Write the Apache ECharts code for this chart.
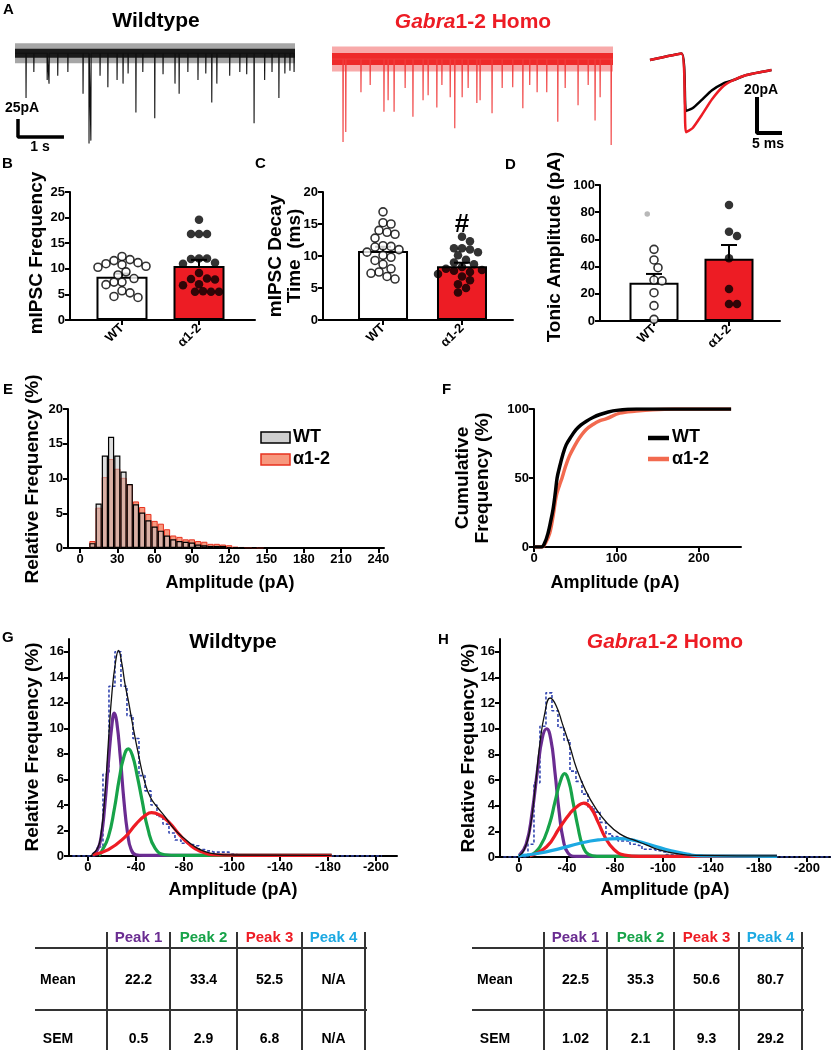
<!DOCTYPE html>
<html>
<head>
<meta charset="utf-8">
<script src="https://cdn.jsdelivr.net/npm/echarts@6/dist/echarts.min.js"></script>
<style>
  html, body { margin: 0; padding: 0; background: #fff; }
  #fig { width: 831px; height: 1050px; }
</style>
</head>
<body>
<div id="fig"></div>
<script>
var FF = '"Liberation Sans", Arial, Helvetica, sans-serif';

// ---------- A: example traces (event time s, depth pA below baseline) ----------
var wtEvents = [[0.24,62],[0.41,26],[0.70,37],[0.74,42],[0.93,31],[1.15,26],[1.48,56],[1.61,125],[1.65,121],
  [1.85,31],[2.02,47],[2.22,37],[2.35,42],[2.46,28],[2.63,82],[2.78,26],[3.04,90],[3.22,29],[3.48,42],[3.57,56],
  [3.76,26],[3.98,37],[4.15,28],[4.28,68],[4.39,42],[4.67,31],[4.89,26],[5.04,29],[5.20,97],[5.43,37],[5.59,26],
  [5.74,62],[5.87,28],[5.98,24],[6.07,26]];
var homoEvents = [[0.24,115],[0.30,101],[0.63,46],[0.83,36],[1.13,73],[1.22,57],[1.35,73],[1.59,40],[1.76,80],
  [1.98,57],[2.09,50],[2.28,67],[2.39,36],[2.57,53],[2.67,96],[2.83,53],[2.96,40],[3.15,61],[3.22,57],[3.48,75],
  [3.70,40],[3.93,39],[4.15,68],[4.30,36],[4.46,46],[4.67,46],[4.91,87],[5.07,40],[5.35,64],[5.57,36],[5.72,85],
  [5.83,53],[6.07,119]];
var wtDuration = 6.09, homoDuration = 6.11;

// averaged mIPSC inset (ms, pA)
var insetTime = [0, 6.3, 7.2, 8.5, 10.3, 12.4, 14.7, 16.7, 19.3, 24.3];
var insetWT   = [-1.7, 2.0, -30, -28.5, -24, -18.5, -14.6, -12.8, -10, -7.2];
var insetHomo = [-1.7, 2.0, -41.8, -39.6, -32.5, -23.5, -16.1, -12.8, -10, -7.2];

// ---------- B, C, D ----------
var groups = ['WT', 'α1-2'];
var freqMean = [8.46, 10.55];
var freqSem  = [0.6, 1.2];
var freqWT   = [12.4, 11.8, 11.6, 11.2, 11.0, 10.8, 10.5, 10.3, 9.4, 8.8, 8.1, 7.4, 7.4, 6.9, 5.7, 5.3, 4.6, 4.4];
var freqHomo = [19.6, 16.8, 16.8, 16.8, 12.0, 12.0, 11.9, 11.2, 11.0, 9.2, 8.1, 8.0, 7.9, 7.0, 6.8, 5.6, 5.5, 5.5, 5.5];

var decayMean = [10.8, 8.4];
var decaySem  = [0.65, 0.55];
var decayWT   = [16.9, 15.2, 15.0, 14.0, 13.7, 13.4, 12.8, 11.6, 11.5, 11.4, 11.0, 10.6, 10.1, 9.8, 9.3, 8.7, 8.0, 7.5, 7.3, 6.8, 6.4];
var decayHomo = [13.0, 12.3, 11.2, 11.2, 11.0, 10.6, 10.1, 9.4, 9.0, 8.7, 8.3, 8.0, 7.8, 7.7, 7.5, 7.2, 6.8, 6.2, 5.6, 5.0, 4.3];

var tonicMean = [28.2, 45.8];
var tonicSem  = [6.4, 10.1];
var tonicWT   = [52.7, 44.9, 39.2, 30.1, 29.5, 20.8, 11.3, 1.2];
var tonicWTExcluded = [78.7];
var tonicHomo = [85.3, 65.7, 62.5, 46.1, 23.5, 12.5, 12.5];

// ---------- E: amplitude histogram ----------
var binCenters = [10,15,20,25,30,35,40,45,50,55,60,65,70,75,80,85,90,95,100,105,110,115,120,125,130,135,140,145];
var histWT   = [0.7,6.4,13.3,16.0,13.3,11.0,9.2,6.3,5.1,4.0,3.1,2.5,1.8,1.25,1.0,0.9,0.8,0.5,0.4,0.3,0.3,0.3,0.15,0.1,0.1,0.05,0.1,0.05];
var histHomo = [1.0,5.8,10.2,12.8,11.4,10.1,9.1,6.7,5.9,4.9,3.9,3.5,2.7,1.8,1.6,1.25,1.25,1.0,0.9,0.6,0.6,0.5,0.4,0.2,0.15,0.1,0.1,0.05];
var histTicks = [0,30,60,90,120,150,180,210,240];

// ---------- F: cumulative ----------
var cdfWT = [[0,0],[9,0],[13,3],[17,10],[20,18],[23,27],[26,40],[28,50],[31,58],[35,67],[39,74],[45,80],[51,85],
  [57,88.5],[63,91],[72,94],[80,96],[90,97.8],[100,99],[124,100],[239,100]];
var cdfHomo = [[0,0],[10,0],[14,3],[19,10],[23,22],[27,37],[31,45],[34,50],[38,58],[43,66],[49,73],[55,79],[63,85],
  [72,89],[80,91.5],[88,93],[104,97],[124,98.5],[144,99.5],[170,100],[239,100]];
var cdfTicks = [0,100,200];

// ---------- G, H: gaussian fits ----------
var fitTicks = [0,40,80,120,160,200,240];
var fitTickLabels = ['0','-40','-80','-100','-140','-180','-200'];
var gPeak1 = [[4,0.1],[8,0.5],[11,1.5],[14,3.9],[17,7.3],[20,10.3],[22,11.2],[24,10.5],[27,7.7],[30,4.3],[33,1.8],[36,0.5],[40,0.1],[46,0.05],[203,0.05]];
var gPeak2 = [[9,0.05],[11,0.3],[17,1.5],[22,3.7],[26,6],[30,7.8],[33.6,8.4],[37,7.9],[41,6.3],[45,4.4],[50,2.1],[56,0.6],[64,0.1],[75,0.05],[203,0.05]];
var gPeak3 = [[4,0.1],[17,0.5],[31,1.5],[40,2.5],[48,3.2],[53,3.4],[60,3.2],[68,2.6],[76,1.7],[84,0.95],[93,0.4],[107,0.08],[130,0.05],[203,0.05]];
var gSum = [[3,0.1],[8,0.6],[11,1.8],[14,4.6],[17,8.9],[20,12.8],[23,15.2],[25.5,16.1],[28,15.2],[31,13.4],[34,12],[37,10.4],[42,8],
  [47,5.9],[52,4.6],[58,3.8],[64,3.1],[72,2.1],[80,1.4],[88,0.8],[96,0.4],[107,0.15],[121,0.08],[203,0.05]];
var hPeak1 = [[0,0.1],[6,1],[11,3.5],[15.5,6.8],[19.5,9.3],[23,10],[26.5,9.2],[30,6.6],[33.5,3.5],[37,1.3],[41,0.3],[48,0.05],[215,0.05]];
var hPeak2 = [[9,0.1],[17.5,0.8],[25.5,2.6],[30,4.3],[34.5,5.9],[38,6.5],[41.5,5.9],[45,4.3],[49,2.4],[53,0.9],[58,0.2],[65,0.05],[215,0.05]];
var hPeak3 = [[9,0.1],[23,0.8],[34,2.3],[42.5,3.4],[48,3.9],[54,4.2],[60,3.8],[66,2.7],[72,1.5],[79,0.6],[88,0.15],[100,0.05],[215,0.05]];
var hPeak4 = [[-0.5,0.1],[14,0.25],[34,0.65],[50,1.05],[66,1.33],[84,1.44],[98,1.25],[112,0.88],[126,0.5],[140,0.22],[153,0.08],[215,0.05]];
var hSum = [[0,0.1],[4,0.5],[9,2.1],[13.5,5.4],[17.5,8.9],[21.5,11.2],[26,12.4],[31,11.8],[36.5,10.3],[42.5,8.6],[48,6.9],
  [56,5.1],[64,3.8],[73,2.7],[84,1.8],[95,1.35],[106,0.95],[117,0.55],[130,0.28],[148,0.12],[215,0.08]];

// ---------- tables ----------
var peakNames = ['Peak 1', 'Peak 2', 'Peak 3', 'Peak 4'];
var wtPeakMean = ['22.2', '33.4', '52.5', 'N/A'];
var wtPeakSem  = ['0.5', '2.9', '6.8', 'N/A'];
var homoPeakMean = ['22.5', '35.3', '50.6', '80.7'];
var homoPeakSem  = ['1.02', '2.1', '9.3', '29.2'];

// =====================================================================
var peakColors = ['#6a2c91', '#17a349', '#ee1c24', '#1ca9e2'];
var RED = '#ed1c24';

var grids = [
  {left: 15,  top: 36,  width: 280, height: 114},  // 0 A wildtype trace
  {left: 332, top: 36,  width: 281, height: 114},  // 1 A homo trace
  {left: 650, top: 40,  width: 135, height: 110},  // 2 A inset
  {left: 70,  top: 192, width: 185, height: 128},  // 3 B
  {left: 323, top: 192, width: 190, height: 128},  // 4 C
  {left: 600, top: 185, width: 180, height: 136},  // 5 D
  {left: 68,  top: 409, width: 316, height: 139},  // 6 E
  {left: 534, top: 409, width: 207, height: 138},  // 7 F
  {left: 69,  top: 639, width: 328, height: 217},  // 8 G
  {left: 500, top: 639, width: 331, height: 218}   // 9 H
];

function axis(grid, o) {
  var a = {
    gridIndex: grid, type: 'value',
    axisLine: {onZero: false, lineStyle: {color: '#000', width: 2}},
    axisTick: {length: 5, lineStyle: {color: '#000', width: 2}},
    axisLabel: {color: '#000', fontFamily: FF, fontWeight: 'bold', fontSize: 13, margin: 5},
    splitLine: {show: false}
  };
  for (var k in o) {
    if (typeof o[k] === 'object' && !Array.isArray(o[k]) && a[k]) {
      for (var j in o[k]) a[k][j] = o[k][j];
    } else a[k] = o[k];
  }
  return a;
}
function hidden(grid, min, max) {
  return {gridIndex: grid, type: 'value', min: min, max: max, show: false};
}
function catFmt(v) { return groups[Math.round(v)]; }

var xAxes = [
  hidden(0, 0, wtDuration),
  hidden(1, 0, homoDuration),
  hidden(2, 0, 27),
  axis(3, {min: -0.675, max: 1.727, axisTick: {customValues: [0, 1]}, axisLabel: {customValues: [0, 1], formatter: catFmt, rotate: 45, margin: 6}}),
  axis(4, {min: -0.76, max: 1.646, axisTick: {customValues: [0, 1]}, axisLabel: {customValues: [0, 1], formatter: catFmt, rotate: 45, margin: 6}}),
  axis(5, {min: -0.72, max: 1.68, axisTick: {customValues: [0, 1]}, axisLabel: {customValues: [0, 1], formatter: catFmt, rotate: 45, margin: 6}}),
  axis(6, {min: -9.65, max: 244.5, axisTick: {customValues: histTicks}, axisLabel: {customValues: histTicks}}),
  axis(7, {min: 0, max: 251, axisTick: {customValues: cdfTicks}, axisLabel: {customValues: cdfTicks}}),
  axis(8, {min: -15.8, max: 257.5, axisTick: {customValues: fitTicks},
    axisLabel: {customValues: fitTicks, formatter: function (v) { return fitTickLabels[fitTicks.indexOf(v)]; }}}),
  axis(9, {min: -15.8, max: 260, axisTick: {customValues: fitTicks},
    axisLabel: {customValues: fitTicks, formatter: function (v) { return fitTickLabels[fitTicks.indexOf(v)]; }}})
];
var yTicksFit = [0, 2, 4, 6, 8, 10, 12, 14, 16];
var yAxes = [
  hidden(0, -134, 24),
  hidden(1, -126, 32),
  hidden(2, -51.67, 9.44),
  axis(3, {min: 0, max: 25, interval: 5}),
  axis(4, {min: 0, max: 20, interval: 5}),
  axis(5, {min: 0, max: 100, interval: 20}),
  axis(6, {min: 0, max: 20, interval: 5}),
  axis(7, {min: 0, max: 100, interval: 50}),
  axis(8, {min: 0, max: 17, axisTick: {customValues: yTicksFit}, axisLabel: {customValues: yTicksFit}}),
  axis(9, {min: 0, max: 17, axisTick: {customValues: yTicksFit}, axisLabel: {customValues: yTicksFit}})
];

var series = [];

// ---- A traces ----
function spikeTrace(events, dur) {
  var pts = [[0, 0]];
  events.forEach(function (e) { pts.push([e[0] - 0.004, 0], [e[0], -e[1]], [e[0] + 0.006, 0]); });
  pts.push([dur, 0]);
  return pts;
}
function line(xi, data, color, width, extra) {
  var s = {type: 'line', xAxisIndex: xi, yAxisIndex: xi, data: data, symbol: 'none', silent: true,
    lineStyle: {color: color, width: width}};
  for (var k in extra) s[k] = extra[k];
  return s;
}
// noise envelope (light) + dense core of the baseline
series.push(line(0, [[0, 0], [wtDuration, 0]], 'rgba(0,0,0,0.35)', 20));
series.push(line(0, [[0, 0], [wtDuration, 0]], '#1a1a1a', 9));
series.push(line(0, spikeTrace(wtEvents, wtDuration), '#111', 1.1));
series.push(line(1, [[0, 0], [homoDuration, 0]], 'rgba(238,42,42,0.4)', 25));
series.push(line(1, [[0, 0], [homoDuration, 0]], '#ee2a2a', 12));
series.push(line(1, spikeTrace(homoEvents, homoDuration), '#f03a3a', 1.1));
// scale bars: 25 pA / 1 s and 20 pA / 5 ms
series.push(line(0, [[0.065, -91], [0.065, -116], [1.065, -116]], '#000', 3.5));
series.push(line(2, [[21.4, -22.2], [21.4, -42.2], [26.4, -42.2]], '#000', 4));
series.push(line(2, insetTime.map(function (t, i) { return [t, insetWT[i]]; }), '#000', 2.5, {smooth: 0.2}));
series.push(line(2, insetTime.map(function (t, i) { return [t, insetHomo[i]]; }), RED, 2.5, {smooth: 0.2}));

// ---- B, C, D ----
function swarm(vals, idx, pxX, pxY, d) {
  var placed = [], out = [];
  vals.forEach(function (v) {
    var y = v * pxY, off = 0;
    var cands = [0];
    for (var j = 1; j < 16; j++) cands.push(j * d / 2, -j * d / 2);
    for (var c = 0; c < cands.length; c++) {
      off = cands[c];
      var ok = placed.every(function (p) {
        var dx = p[0] - off, dy = p[1] - y;
        return dx * dx + dy * dy >= d * d;
      });
      if (ok) break;
    }
    placed.push([off, y]);
    out.push([idx + off / pxX, v]);
  });
  return out;
}
function barPanel(ai, mean, sem, wt, homo, barW, pxX, pxY) {
  series.push({type: 'bar', xAxisIndex: ai, yAxisIndex: ai, barWidth: barW, z: 2, silent: true,
    data: mean.map(function (m, i) { return {value: [i, m], itemStyle: {color: i === 0 ? '#fff' : RED}}; }),
    itemStyle: {borderColor: '#000', borderWidth: 2}});
  series.push({type: 'custom', xAxisIndex: ai, yAxisIndex: ai, z: 3, silent: true,
    data: mean.map(function (m, i) { return [i, m, sem[i]]; }),
    renderItem: function (params, api) {
      var b = api.coord([api.value(0), api.value(1)]);
      var t = api.coord([api.value(0), api.value(1) + api.value(2)]);
      var st = {stroke: '#000', lineWidth: 2};
      return {type: 'group', children: [
        {type: 'line', shape: {x1: b[0], y1: b[1], x2: t[0], y2: t[1]}, style: st},
        {type: 'line', shape: {x1: t[0] - 8, y1: t[1], x2: t[0] + 8, y2: t[1]}, style: st}
      ]};
    }});
  series.push({type: 'scatter', xAxisIndex: ai, yAxisIndex: ai, z: 4, silent: true, symbolSize: 8,
    data: swarm(wt, 0, pxX, pxY, 8),
    itemStyle: {color: '#fff', borderColor: '#000', borderWidth: 1.6}});
  series.push({type: 'scatter', xAxisIndex: ai, yAxisIndex: ai, z: 4, silent: true, symbolSize: 8.5,
    data: swarm(homo, 1, pxX, pxY, 8), itemStyle: {color: '#000'}});
}
barPanel(3, freqMean, freqSem, freqWT, freqHomo, 51, 77, 128 / 25);
barPanel(4, decayMean, decaySem, decayWT, decayHomo, 50, 79, 128 / 20);
barPanel(5, tonicMean, tonicSem, tonicWT, tonicHomo, 49, 75, 136 / 100);
series.push({type: 'scatter', xAxisIndex: 5, yAxisIndex: 5, z: 4, silent: true, symbolSize: 5.5,
  data: tonicWTExcluded.map(function (v) { return [-0.09, v]; }), itemStyle: {color: '#a6a6a6'}});

// ---- E ----
series.push({type: 'bar', xAxisIndex: 6, yAxisIndex: 6, barWidth: 6.2, barGap: '-100%', silent: true,
  data: binCenters.map(function (c, i) { return [c, histHomo[i]]; }),
  itemStyle: {color: '#f7987e', borderColor: '#e8321f', borderWidth: 1}});
series.push({type: 'bar', xAxisIndex: 6, yAxisIndex: 6, barWidth: 6.2, barGap: '-100%', silent: true,
  data: binCenters.map(function (c, i) { return [c, histWT[i]]; }),
  itemStyle: {color: 'rgba(195,195,195,0.55)', borderColor: '#000', borderWidth: 1.2}});

// ---- F ----
series.push(line(7, cdfHomo, '#f26a4f', 3.5, {smooth: 0.35}));
series.push(line(7, cdfWT, '#000', 3.5, {smooth: 0.35}));

// ---- G, H ----
function histStep(hist, endX) {
  var pts = [[-13, 0], [5, 0]];
  binCenters.forEach(function (c, i) { pts.push([c, hist[i]]); });
  pts.push([150, 0], [endX, 0]);
  return pts;
}
function fitPanel(ai, hist, endX, peaks, sum) {
  series.push(line(ai, histStep(hist, endX), '#3346b0', 1.6, {step: 'middle'}));
  series[series.length - 1].lineStyle.type = [3, 2];
  peaks.forEach(function (p, i) {
    series.push(line(ai, p, peakColors[i], 3.2, {smooth: 0.5}));
  });
  series.push(line(ai, sum, '#111', 1.3, {smooth: 0.5}));
}
fitPanel(8, histWT, 245, [gPeak1, gPeak2, gPeak3], gSum);
fitPanel(9, histHomo, 262, [hPeak1, hPeak2, hPeak3, hPeak4], hSum);

// ---------- graphic texts ----------
var gfx = [];
function T(x, y, text, size, o) {
  o = o || {};
  gfx.push({type: 'text', x: x, y: y, rotation: o.rot || 0, z: 10, silent: true,
    style: {text: text, font: (o.italic ? 'italic ' : '') + (o.normal ? '' : 'bold ') + size + 'px ' + FF,
      fill: o.color || '#000', align: o.align || 'center', verticalAlign: 'middle', lineHeight: o.lh || size * 1.1}});
}
function richTitle(x, y, size) {
  gfx.push({type: 'text', x: x, y: y, z: 10, silent: true,
    style: {text: '{i|Gabra}{n|1-2 Homo}', align: 'center', verticalAlign: 'middle',
      rich: {i: {fontStyle: 'italic', fontWeight: 'bold', fontSize: size, fontFamily: FF, fill: RED},
             n: {fontWeight: 'bold', fontSize: size, fontFamily: FF, fill: RED}}}});
}
function L(x1, y1, x2, y2, color, w) {
  gfx.push({type: 'line', z: 10, silent: true, shape: {x1: x1, y1: y1, x2: x2, y2: y2},
    style: {stroke: color, lineWidth: w}});
}
var UP = Math.PI / 2;

// panel letters
T(3, 10, 'A', 15, {align: 'left'});
T(2, 164, 'B', 15, {align: 'left'});
T(255, 164, 'C', 15, {align: 'left'});
T(505, 165, 'D', 15, {align: 'left'});
T(3, 390, 'E', 15, {align: 'left'});
T(442, 390, 'F', 15, {align: 'left'});
T(2, 638, 'G', 15, {align: 'left'});
T(438, 640, 'H', 15, {align: 'left'});

// A
T(156, 21, 'Wildtype', 21);
richTitle(473, 22, 21);
T(22, 108, '25pA', 14);
T(40, 147, '1 s', 14);
T(761, 90, '20pA', 14);
T(768, 144, '5 ms', 14);

// axis titles
T(37, 253, 'mIPSC Frequency', 19, {rot: UP});
T(285, 256, 'mIPSC Decay\nTime  (ms)', 19, {rot: UP, lh: 19});
T(462, 225, '#', 26);
T(555, 247, 'Tonic Amplitude (pA)', 19, {rot: UP});
T(33, 479, 'Relative Frequency (%)', 19, {rot: UP});
T(230, 583, 'Amplitude (pA)', 18);
T(473, 478, 'Cumulative\nFrequency (%)', 19, {rot: UP, lh: 20});
T(615, 583, 'Amplitude (pA)', 18);
T(233, 642, 'Wildtype', 21);
richTitle(665, 642, 21);
T(33, 747, 'Relative Frequency (%)', 19, {rot: UP});
T(469, 748, 'Relative Frequency (%)', 19, {rot: UP});
T(233, 890, 'Amplitude (pA)', 18);
T(665, 890, 'Amplitude (pA)', 18);

// E legend
gfx.push({type: 'rect', z: 10, silent: true, shape: {x: 261, y: 432, width: 29, height: 11},
  style: {fill: '#cfcfcf', stroke: '#000', lineWidth: 1.5}});
gfx.push({type: 'rect', z: 10, silent: true, shape: {x: 261, y: 454, width: 29, height: 11},
  style: {fill: '#f7987e', stroke: '#e8321f', lineWidth: 1.5}});
T(293, 437, groups[0], 18, {align: 'left'});
T(293, 459, groups[1], 18, {align: 'left'});
// F legend
L(648, 438, 669, 438, '#000', 4.5);
L(648, 459, 669, 459, '#f26a4f', 4.5);
T(672, 437, groups[0], 18, {align: 'left'});
T(672, 459, groups[1], 18, {align: 'left'});

// tables
function table(x0, means, sems) {
  var cols = [107, 170, 237, 302, 365].map(function (c) { return c - 35 + x0; });
  L(x0, 948, x0 + 332, 948, '#333', 2);
  L(x0, 1010, x0 + 332, 1010, '#333', 2);
  cols.forEach(function (c) { L(c, 932, c, 1050, '#333', 2); });
  for (var i = 0; i < 4; i++) {
    var cx = (cols[i] + cols[i + 1]) / 2;
    T(cx, 938, peakNames[i], 15, {color: peakColors[i]});
    T(cx, 980, means[i], 14);
    T(cx, 1039, sems[i], 14);
  }
  T(x0 + 23, 980, 'Mean', 14);
  T(x0 + 23, 1039, 'SEM', 14);
}
table(35, wtPeakMean, wtPeakSem);
table(472, homoPeakMean, homoPeakSem);

var chart = echarts.init(document.getElementById('fig'), null, {renderer: 'canvas'});
chart.setOption({
  animation: false,
  backgroundColor: '#fff',
  textStyle: {fontFamily: FF},
  grid: grids,
  xAxis: xAxes,
  yAxis: yAxes,
  series: series,
  graphic: gfx
});
</script>
</body>
</html>
